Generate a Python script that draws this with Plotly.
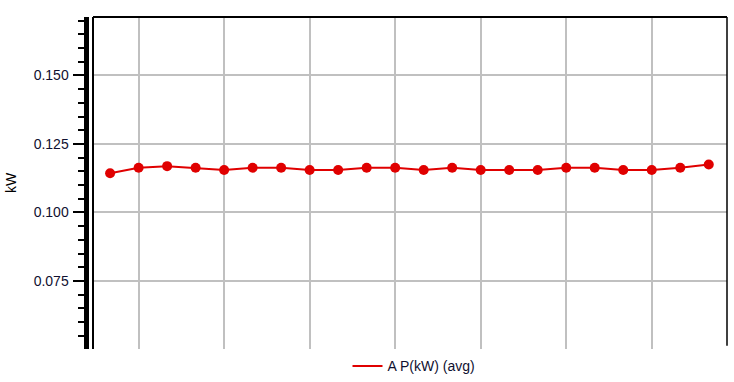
import plotly.graph_objects as go

# Data
sample_index = list(range(22))
power_kw = [0.1143, 0.1163, 0.1169, 0.1163, 0.1155, 0.1163, 0.1163, 0.1155, 0.1155, 0.1163, 0.1163,
            0.1155, 0.1163, 0.1155, 0.1155, 0.1155, 0.1163, 0.1163, 0.1155, 0.1155, 0.1163, 0.1175]
series_name = "A P(kW) (avg)"
y_title = "kW"

W, H = 734, 382
ml, mr, mt, mb = 80, 7, 17, 33
plot_w = W - ml - mr
x0_frac = (93 - ml) / plot_w
axis_pos = (85.5 - ml) / plot_w

RED = "#e00000"
GRID = "#c0c0c0"
FONT = "Liberation Sans, Arial, sans-serif"

fig = go.Figure()
fig.add_trace(go.Scatter(
    x=sample_index, y=power_kw, mode="lines+markers",
    line=dict(color=RED, width=2), marker=dict(color=RED, size=10),
    showlegend=False, cliponaxis=False,
))
fig.add_trace(go.Scatter(
    x=[None], y=[None], mode="lines", name=series_name,
    line=dict(color=RED, width=2), showlegend=True,
))

fig.update_layout(
    width=W, height=H,
    margin=dict(l=ml, r=mr, t=mt, b=mb, autoexpand=False),
    paper_bgcolor="white", plot_bgcolor="white",
    font=dict(family=FONT, size=14, color="black"),
    xaxis=dict(
        domain=[x0_frac, 1], range=[-0.6, 21.64],
        tickmode="linear", tick0=1, dtick=3,
        showticklabels=False, ticks="",
        showgrid=True, gridcolor=GRID, gridwidth=2,
        zeroline=False, showline=False,
    ),
    yaxis=dict(
        anchor="free", position=axis_pos,
        range=[0.0502, 0.1713],
        tickmode="linear", tick0=0, dtick=0.025, tickformat=".3f",
        ticks="outside", ticklen=11, tickwidth=2, tickcolor="black",
        minor=dict(dtick=0.005, tick0=0, ticks="outside", ticklen=6, tickwidth=2,
                   tickcolor="black", showgrid=False),
        showline=True, linewidth=5, linecolor="black",
        showgrid=True, gridcolor=GRID, gridwidth=2,
        zeroline=False,
        ticklabelstandoff=1,
        tickfont=dict(size=14, color="#101030"),
        title=dict(text=y_title, font=dict(size=14), standoff=12),
    ),
    legend=dict(
        orientation="h", x=(414 - ml) / plot_w, xanchor="center",
        y=-0.004, yanchor="top", font=dict(size=14, color="#101030"),
        bgcolor="rgba(0,0,0,0)",
    ),
    shapes=[
        dict(type="line", xref="x domain", yref="y domain", x0=0, x1=1, y0=1, y1=1,
             line=dict(color="black", width=2)),
        dict(type="line", xref="x domain", yref="y domain", x0=0, x1=0, y0=0, y1=1,
             line=dict(color="black", width=2)),
        dict(type="line", xref="x domain", yref="y domain", x0=1, x1=1, y0=0.01, y1=1,
             line=dict(color="black", width=1.5)),
    ],
)

fig.write_html("out.html")
